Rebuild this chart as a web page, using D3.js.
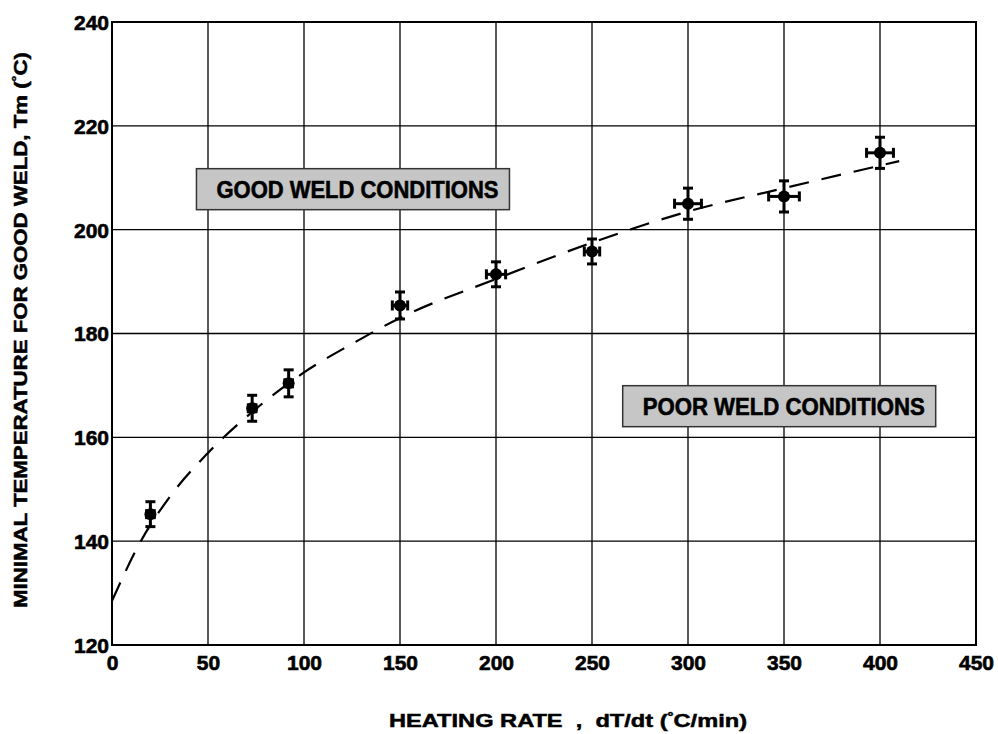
<!DOCTYPE html>
<html>
<head>
<meta charset="utf-8">
<script src="https://cdn.jsdelivr.net/npm/d3@7"></script>
<style>
  body { margin: 0; background: #fff; }
  text { font-family: "Liberation Sans", Arial, sans-serif; font-weight: bold; fill: #000; }
</style>
</head>
<body>
<svg width="998" height="734"></svg>
<script>
// measured points: heating rate (C/min), Tm (C), error bars
var rate   = [20, 73, 92, 150, 200, 250, 300, 350, 400];
var tm     = [145.2, 165.6, 170.4, 185.4, 191.4, 195.8, 205, 206.4, 214.8];
var errT   = [2.4, 2.5, 2.6, 2.6, 2.4, 2.4, 3, 3, 3];
var errR   = [2, 2, 2, 4, 5, 4, 7, 8, 7];

// dashed fit curve
var fitX = [0, 15, 30, 50, 75, 100, 125, 150, 200, 250, 300, 350, 410];
var fitY = [128.5, 140, 148.5, 157, 165.5, 172.5, 178, 183, 190.5, 197.5, 203.5, 208, 213.2];

var xTicks = [0, 50, 100, 150, 200, 250, 300, 350, 400, 450];
var yTicks = [120, 140, 160, 180, 200, 220, 240];

var svg = d3.select("svg"),
    margin = {top: 22, right: 22, bottom: 89, left: 112},
    width = 998 - margin.left - margin.right,
    height = 734 - margin.top - margin.bottom;

var x = d3.scaleLinear().domain([0, 450]).range([0, width]);
var y = d3.scaleLinear().domain([120, 240]).range([height, 0]);

var g = svg.append("g").attr("transform", "translate(" + margin.left + "," + margin.top + ")");

// grid
g.selectAll(".vgrid").data(xTicks).enter().append("line")
    .attr("x1", function(d) { return x(d); }).attr("x2", function(d) { return x(d); })
    .attr("y1", 0).attr("y2", height)
    .attr("stroke", "#000").attr("stroke-width", 1.3);
g.selectAll(".hgrid").data(yTicks).enter().append("line")
    .attr("y1", function(d) { return y(d); }).attr("y2", function(d) { return y(d); })
    .attr("x1", 0).attr("x2", width)
    .attr("stroke", "#000").attr("stroke-width", 1.3);
g.append("rect").attr("width", width).attr("height", height)
    .attr("fill", "none").attr("stroke", "#000").attr("stroke-width", 2);

// axes labels
var xAxis = g.append("g").attr("transform", "translate(0," + height + ")")
    .call(d3.axisBottom(x).tickValues(xTicks).tickSize(0).tickPadding(10));
var yAxis = g.append("g")
    .call(d3.axisLeft(y).tickValues(yTicks).tickSize(0).tickPadding(3));
[xAxis, yAxis].forEach(function(a) {
  a.select(".domain").remove();
  a.selectAll("text").style("font-size", "21px").style("font-weight", "bold")
    .style("font-family", "'Liberation Sans', Arial, sans-serif")
    .style("stroke", "#000").style("stroke-width", 0.6);
});
yAxis.selectAll("text").attr("dy", "0.35em");

// annotation boxes
function box(cx, cy, label) {
  var w = 313, h = 41;
  var bx = x(cx) - w / 2, by = y(cy) - h / 2;
  g.append("rect").attr("x", bx).attr("y", by).attr("width", w).attr("height", h)
      .attr("fill", "#c6c6c6").attr("stroke", "#333").attr("stroke-width", 1.5);
  g.append("text").attr("x", bx + 20).attr("y", by + h / 2 + 9)
      .attr("textLength", 282).attr("lengthAdjust", "spacingAndGlyphs")
      .style("font-size", "24px").style("stroke", "#000").style("stroke-width", 0.6)
      .text(label);
}
box(125.5, 207.8, "GOOD WELD CONDITIONS");
box(347.5, 166, "POOR WELD CONDITIONS");

// fit curve
var line = d3.line().x(function(d) { return x(d[0]); }).y(function(d) { return y(d[1]); })
    .curve(d3.curveMonotoneX);
g.append("path").datum(d3.zip(fitX, fitY))
    .attr("d", line).attr("fill", "none").attr("stroke", "#000")
    .attr("stroke-width", 2.2).attr("stroke-dasharray", "20,13");

// points with error bars
var pts = g.selectAll(".pt").data(d3.range(rate.length)).enter().append("g");
pts.append("line")
    .attr("x1", function(i) { return x(rate[i]); }).attr("x2", function(i) { return x(rate[i]); })
    .attr("y1", function(i) { return y(tm[i] - errT[i]); }).attr("y2", function(i) { return y(tm[i] + errT[i]); })
    .attr("stroke", "#000").attr("stroke-width", 3);
pts.append("line")
    .attr("x1", function(i) { return x(rate[i] - errR[i]); }).attr("x2", function(i) { return x(rate[i] + errR[i]); })
    .attr("y1", function(i) { return y(tm[i]); }).attr("y2", function(i) { return y(tm[i]); })
    .attr("stroke", "#000").attr("stroke-width", 3);
// caps
[-1, 1].forEach(function(s) {
  pts.append("line")
      .attr("x1", function(i) { return x(rate[i]) - 5; }).attr("x2", function(i) { return x(rate[i]) + 5; })
      .attr("y1", function(i) { return y(tm[i] + s * errT[i]); }).attr("y2", function(i) { return y(tm[i] + s * errT[i]); })
      .attr("stroke", "#000").attr("stroke-width", 3);
  pts.append("line")
      .attr("x1", function(i) { return x(rate[i] + s * errR[i]); }).attr("x2", function(i) { return x(rate[i] + s * errR[i]); })
      .attr("y1", function(i) { return y(tm[i]) - 5; }).attr("y2", function(i) { return y(tm[i]) + 5; })
      .attr("stroke", "#000").attr("stroke-width", 3);
});
pts.append("circle")
    .attr("cx", function(i) { return x(rate[i]); }).attr("cy", function(i) { return y(tm[i]); })
    .attr("r", 6).attr("fill", "#000");

// axis titles
var yt = svg.append("text")
    .attr("transform", "translate(27," + 330 + ") rotate(-90)")
    .attr("text-anchor", "middle")
    .attr("textLength", 556).attr("lengthAdjust", "spacingAndGlyphs")
    .style("font-size", "18px").style("stroke", "#000").style("stroke-width", 0.5);
yt.append("tspan").text("MINIMAL TEMPERATURE FOR GOOD WELD, Tm (");
yt.append("tspan").attr("dy", "-6").style("font-size", "12px").text("°");
yt.append("tspan").attr("dy", "6").text("C)");

var xt = svg.append("text")
    .attr("x", 568).attr("y", 727)
    .attr("text-anchor", "middle")
    .attr("textLength", 358).attr("lengthAdjust", "spacingAndGlyphs")
    .style("font-size", "19px").style("stroke", "#000").style("stroke-width", 0.5);
xt.append("tspan").text("HEATING RATE\u00a0\u00a0,\u00a0\u00a0dT/dt (");
xt.append("tspan").attr("dy", "-6").style("font-size", "12px").text("°");
xt.append("tspan").attr("dy", "6").text("C/min)");
</script>
</body>
</html>
